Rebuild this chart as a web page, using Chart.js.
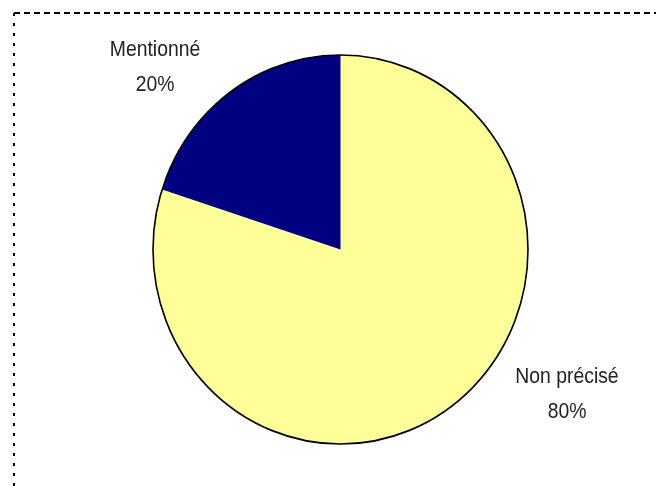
<!DOCTYPE html>
<html><head><meta charset="utf-8">
<script src="https://cdn.jsdelivr.net/npm/chart.js@4"></script>
<style>html,body{margin:0;padding:0;background:#fff;}canvas{display:block;}</style>
</head><body>
<canvas id="c" width="656" height="486"></canvas>
<script>
const categories = ["Non précisé", "Mentionné"];
const values = [80, 20];
const colors = ["#FFFF99", "#000080"];
const labelText = ["80%", "20%"];

const labelPos = [{x: 567, y: 382.5}, {x: 155, y: 55.5}];
const yStretch = 193.5 / 186.5;

const frame = {
  id: 'frame',
  beforeDraw(chart) {
    const ctx = chart.ctx;
    ctx.save();
    ctx.fillStyle = '#fff';
    ctx.fillRect(0, 0, chart.width, chart.height);
    ctx.strokeStyle = '#000';
    ctx.lineWidth = 2;
    ctx.setLineDash([6, 4]);
    ctx.beginPath();
    ctx.moveTo(14, 13); ctx.lineTo(chart.width, 13);
    ctx.stroke();
    ctx.setLineDash([3, 7]);
    ctx.beginPath();
    ctx.moveTo(14, 13); ctx.lineTo(14, chart.height);
    ctx.stroke();
    ctx.restore();
  }
};

const stretch = {
  id: 'stretch',
  beforeDatasetsDraw(chart) {
    const arc = chart.getDatasetMeta(0).data[0];
    const ctx = chart.ctx;
    ctx.save();
    ctx.translate(arc.x, arc.y);
    ctx.scale(1, yStretch);
    ctx.translate(-arc.x, -arc.y);
  },
  afterDatasetsDraw(chart) {
    const arc = chart.getDatasetMeta(0).data[0];
    const ctx = chart.ctx;
    ctx.strokeStyle = '#000';
    ctx.lineWidth = 1.6;
    ctx.beginPath();
    ctx.arc(arc.x, arc.y, arc.outerRadius, 0, Math.PI * 2);
    ctx.stroke();
    ctx.restore();
  }
};

const labels = {
  id: 'labels',
  afterDraw(chart) {
    const ctx = chart.ctx;
    ctx.fillStyle = '#222';
    ctx.font = '21.5px "Liberation Sans Narrow", "Arial Narrow", "Liberation Sans", Arial, sans-serif';
    ctx.textAlign = 'center';
    ctx.textBaseline = 'alphabetic';
    categories.forEach((c, i) => {
      const p = labelPos[i];
      ctx.save();
      ctx.translate(p.x, p.y);
      ctx.scale(0.9, 1);
      ctx.fillText(c, 0, 0);
      ctx.fillText(labelText[i], 0, 35);
      ctx.restore();
    });
  }
};

new Chart(document.getElementById('c'), {
  type: 'pie',
  data: {
    labels: categories,
    datasets: [{ data: values, backgroundColor: colors, borderWidth: 0 }]
  },
  options: {
    responsive: false,
    animation: false,
    layout: { padding: { left: 153, right: 128, top: 62, bottom: 49 } },
    plugins: { legend: { display: false }, tooltip: { enabled: false } }
  },
  plugins: [frame, stretch, labels]
});
</script>
</body></html>
